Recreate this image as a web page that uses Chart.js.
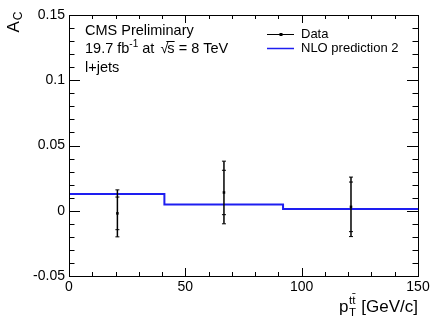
<!DOCTYPE html>
<html>
<head>
<meta charset="utf-8">
<script src="https://cdn.jsdelivr.net/npm/chart.js@4.4.0/dist/chart.umd.min.js"></script>
<style>
html,body{margin:0;padding:0;background:#fff}
</style>
</head>
<body>
<canvas id="c" width="436" height="318"></canvas>
<script>
// NLO prediction, one value per bin
const binEdges = [0, 41, 92, 150]
const nloValues = [0.0128, 0.0048, 0.0013]
// measured points
const dataX = [20.8, 66.6, 121.2]
const dataY = [-0.002, 0.014, 0.003]
const statErr = [0.0125, 0.017, 0.019]
const totErr = [0.018, 0.024, 0.0228]
const xTicks = [0, 50, 100, 150]
const yTicks = [-0.05, 0, 0.05, 0.1, 0.15]

const FONT = "'Liberation Sans', Arial, Helvetica, sans-serif"
const NLO_COLOR = '#1e1ef0'

// histogram outline: each bin gives a flat segment from its low edge to its high edge
const nloPoints = []
nloValues.forEach((v, i) => {
  nloPoints.push({ x: binEdges[i], y: v })
  nloPoints.push({ x: binEdges[i + 1], y: v })
})

const dataPoints = dataX.map((x, i) => ({ x: x, y: dataY[i] }))

function fnt(size) { return size + 'px ' + FONT }

// frame + inside ticks like ROOT
const framePlugin = {
  id: 'frame',
  afterDatasetsDraw(chart) {
    const ctx = chart.ctx
    const a = chart.chartArea
    const xs = chart.scales.x, ys = chart.scales.y
    ctx.save()
    // error bars
    ctx.strokeStyle = '#000'
    ctx.lineWidth = 1.5
    for (let i = 0; i < dataX.length; i++) {
      const px = xs.getPixelForValue(dataX[i])
      const top = ys.getPixelForValue(dataY[i] + totErr[i])
      const bot = ys.getPixelForValue(dataY[i] - totErr[i])
      ctx.beginPath(); ctx.moveTo(px, top); ctx.lineTo(px, bot); ctx.stroke()
      const ends = [dataY[i] + totErr[i], dataY[i] - totErr[i], dataY[i] + statErr[i], dataY[i] - statErr[i]]
      ctx.lineWidth = 1
      ends.forEach(v => {
        const py = ys.getPixelForValue(v)
        ctx.beginPath(); ctx.moveTo(px - 2, py); ctx.lineTo(px + 2, py); ctx.stroke()
      })
      ctx.lineWidth = 1.5
    }
    // frame
    ctx.lineWidth = 1
    ctx.strokeRect(a.left + 0.5, a.top + 0.5, a.right - a.left, a.bottom - a.top)
    ctx.beginPath()
    for (let v = -0.05; v <= 0.1501; v += 0.01) {
      const py = Math.round(ys.getPixelForValue(v)) + 0.5
      const major = Math.abs(Math.round(v * 100) % 5) === 0
      const len = major ? 11 : 5.5
      ctx.moveTo(a.left, py); ctx.lineTo(a.left + len, py)
      ctx.moveTo(a.right, py); ctx.lineTo(a.right - len, py)
    }
    for (let v = 0; v <= 150; v += 10) {
      const px = Math.round(xs.getPixelForValue(v)) + 0.5
      const len = v % 50 === 0 ? 8 : 4
      ctx.moveTo(px, a.bottom); ctx.lineTo(px, a.bottom - len)
      ctx.moveTo(px, a.top); ctx.lineTo(px, a.top + len)
    }
    ctx.stroke()
    ctx.restore()
  },
  afterDraw(chart) {
    const ctx = chart.ctx
    const a = chart.chartArea
    ctx.save()
    ctx.fillStyle = '#000'
    ctx.textBaseline = 'alphabetic'
    ctx.textAlign = 'left'

    // y title A_C rotated
    ctx.save()
    ctx.translate(19, 11.5)
    ctx.rotate(-Math.PI / 2)
    ctx.font = fnt(17)
    const wA = ctx.measureText('A').width
    ctx.font = fnt(12)
    const wC = ctx.measureText('C').width
    const x0 = -(wA + wC + 1)
    ctx.font = fnt(17)
    ctx.fillText('A', x0, 0)
    ctx.font = fnt(12)
    ctx.fillText('C', x0 + wA + 1, 3)
    ctx.restore()

    // x title p_T^{tt}
    const base = 312
    ctx.font = fnt(17)
    const rest = ' [GeV/c]'
    const wRest = ctx.measureText(rest).width
    const wp = ctx.measureText('p').width
    ctx.font = fnt(11.5)
    const wtt = ctx.measureText('tt').width
    const wt = ctx.measureText('t').width
    const wT = ctx.measureText('T').width
    const wScript = Math.max(wtt, wT) + 1
    let xx = a.right - wRest - wScript - wp
    ctx.font = fnt(17)
    ctx.fillText('p', xx, base)
    ctx.font = fnt(11.5)
    ctx.fillText('tt', xx + wp + 0.5, base - 8.5)
    ctx.fillText('T', xx + wp + 0.5, base + 4)
    ctx.lineWidth = 0.8
    ctx.strokeStyle = '#000'
    ctx.beginPath()
    ctx.moveTo(xx + wp + 0.5 + wt, base - 18.5)
    ctx.lineTo(xx + wp + 0.5 + wtt, base - 18.5)
    ctx.stroke()
    ctx.font = fnt(17)
    ctx.fillText(rest, xx + wp + wScript, base)

    // CMS block
    const tx = 85
    ctx.font = fnt(14.5)
    ctx.fillText('CMS Preliminary', tx, 35)
    let cx = tx
    const l2 = 53
    ctx.fillText('19.7 fb', cx, l2)
    cx += ctx.measureText('19.7 fb').width
    ctx.font = fnt(10)
    ctx.fillText('-1', cx, l2 - 6)
    cx += ctx.measureText('-1').width
    ctx.font = fnt(14.5)
    ctx.fillText(' at  ', cx, l2)
    cx += ctx.measureText(' at  ').width
    ctx.fillText('\u221a', cx - 2, l2)
    cx += ctx.measureText('\u221a').width - 3
    const ws = ctx.measureText('s').width
    ctx.fillText('s', cx, l2)
    ctx.lineWidth = 1
    ctx.beginPath(); ctx.moveTo(cx - 1, l2 - 11.5); ctx.lineTo(cx + ws, l2 - 11.5); ctx.stroke()
    cx += ws
    ctx.fillText(' = 8 TeV', cx, l2)
    ctx.fillText('l+jets', tx, 72)

    // legend
    ctx.textBaseline = 'middle'
    ctx.font = fnt(13)
    ctx.strokeStyle = '#000'
    ctx.lineWidth = 1
    ctx.beginPath(); ctx.moveTo(267, 34.5); ctx.lineTo(294, 34.5); ctx.stroke()
    ctx.fillRect(279.5, 33, 3, 3)
    ctx.fillText('Data', 301, 34)
    ctx.strokeStyle = NLO_COLOR
    ctx.lineWidth = 1.5
    ctx.beginPath(); ctx.moveTo(267, 48.5); ctx.lineTo(294, 48.5); ctx.stroke()
    ctx.fillText('NLO prediction 2', 301, 48.5)
    ctx.restore()
  }
}

new Chart(document.getElementById('c'), {
  type: 'scatter',
  data: {
    datasets: [
      {
        label: 'NLO prediction 2',
        type: 'line',
        data: nloPoints,
        borderColor: NLO_COLOR,
        borderWidth: 2,
        pointRadius: 0,
        tension: 0,
        fill: false
      },
      {
        label: 'Data',
        data: dataPoints,
        pointStyle: 'rect',
        pointRadius: 1.8,
        backgroundColor: '#000',
        borderColor: '#000',
        borderWidth: 0
      }
    ]
  },
  options: {
    responsive: false,
    animation: false,
    layout: { padding: { top: 15, right: 18, left: 0, bottom: 0 } },
    plugins: { legend: { display: false }, tooltip: { enabled: false } },
    scales: {
      x: {
        type: 'linear',
        min: 0, max: 150,
        afterBuildTicks: s => { s.ticks = xTicks.map(v => ({ value: v })) },
        afterFit: s => { s.height = 42 },
        grid: { display: false, drawTicks: false },
        border: { display: false },
        ticks: { color: '#000', font: { family: FONT, size: 14 }, padding: 3, maxRotation: 0, autoSkip: false,
          callback: v => String(v) }
      },
      y: {
        min: -0.05, max: 0.15,
        afterBuildTicks: s => { s.ticks = yTicks.map(v => ({ value: v })) },
        afterFit: s => { s.width = 69 },
        grid: { display: false, drawTicks: false },
        border: { display: false },
        ticks: { color: '#000', font: { family: FONT, size: 14 }, padding: 4, autoSkip: false,
          callback: v => String(Number(v.toFixed(2))) }
      }
    }
  },
  plugins: [framePlugin]
})
</script>
</body>
</html>
